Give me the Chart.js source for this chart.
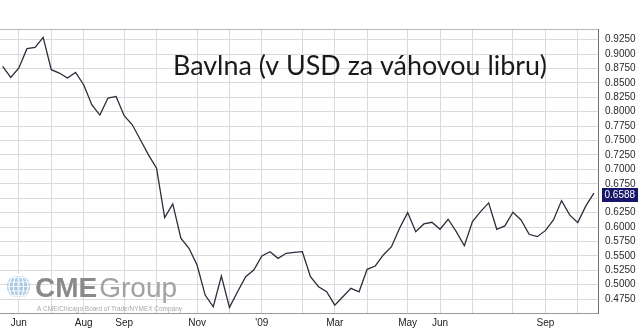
<!DOCTYPE html>
<html><head><meta charset="utf-8">
<script src="https://cdn.jsdelivr.net/npm/chart.js@4"></script>
<style>html,body{margin:0;padding:0;background:#fff}canvas{display:block}</style>
</head><body>
<div style="width:640px;height:331px"><canvas id="c" width="640" height="331"></canvas></div>
<script>
// weekly index (0 = first week of June 2008)
const weeks = [-2,-1,0,1,2,3,4,5,6,7,8,9,10,11,12,13,14,15,16,17,18,19,20,21,22,23,24,25,26,27,28,29,30,31,32,33,34,35,36,37,38,39,40,41,42,43,44,45,46,47,48,49,50,51,52,53,54,55,56,57,58,59,60,61,62,63,64,65,66,67,68,69,70,71];
const prices = [0.8786,0.8595,0.8758,0.9094,0.9116,0.9290,0.8729,0.8671,0.8585,0.8682,0.8468,0.8121,0.7942,0.8237,0.8265,0.7930,0.7773,0.7513,0.7252,0.7021,0.6163,0.6401,0.5805,0.5631,0.5341,0.4820,0.4617,0.5150,0.4606,0.4877,0.5138,0.5254,0.5497,0.5572,0.5457,0.5544,0.5562,0.5572,0.5138,0.4964,0.4877,0.4646,0.4790,0.4936,0.4877,0.5266,0.5324,0.5515,0.5659,0.5979,0.6250,0.5920,0.6053,0.6083,0.5961,0.6135,0.5920,0.5676,0.6093,0.6267,0.6418,0.5961,0.6019,0.6257,0.6123,0.5874,0.5833,0.5937,0.6123,0.6458,0.6210,0.6076,0.6366,0.6588];
const gridWeeks  = [0,4,8,13,17,22,26,30,35,39,43,48,52,56,61,65,69];
const gridLabels = ['Jun','','Aug','Sep','','Nov','',"'09",'','Mar','','May','Jun','','','Sep',''];
const yTicks = [0.925,0.9,0.875,0.85,0.825,0.8,0.775,0.75,0.725,0.7,0.675,0.65,0.625,0.6,0.575,0.55,0.525,0.5,0.475];
const lastValue = 0.6588;
const titleText = 'Bavlna (v USD za váhovou libru)';

const points = weeks.map((w,i)=>({x:w,y:prices[i]}));

const deco = {
  id:'deco',
  afterDraw(chart){
    const ctx = chart.ctx, a = chart.chartArea;
    ctx.save();
    // top border
    ctx.strokeStyle='#b8b8b8'; ctx.lineWidth=1;
    ctx.beginPath(); ctx.moveTo(0,Math.round(a.top)+0.5); ctx.lineTo(a.right,Math.round(a.top)+0.5); ctx.stroke();
    // title
    let fs = 25;
    ctx.font = fs+'px Lato';
    const w = ctx.measureText(titleText).width;
    fs = fs*374/w;
    ctx.font = fs.toFixed(2)+'px Lato';
    ctx.fillStyle='#1a1a1a'; ctx.textAlign='center'; ctx.textBaseline='alphabetic';
    ctx.fillText(titleText, 360, 75);
    // logo globe
    const gx=18.5, gy=286.5, r=11.5;
    ctx.fillStyle='#a9c9e2';
    ctx.beginPath(); ctx.arc(gx,gy,r,0,Math.PI*2); ctx.fill();
    ctx.strokeStyle='rgba(255,255,255,0.85)'; ctx.lineWidth=1;
    for(let k=-2;k<=2;k++){
      ctx.beginPath(); ctx.ellipse(gx,gy,Math.abs(k)*r/2.5+0.5,r,0,0,Math.PI*2); ctx.stroke();
    }
    for(let k=-2;k<=2;k++){
      const yy = gy + k*r/2.6, hw = Math.sqrt(Math.max(0,r*r-(k*r/2.6)**2));
      ctx.beginPath(); ctx.moveTo(gx-hw,yy); ctx.lineTo(gx+hw,yy); ctx.stroke();
    }
    ctx.textAlign='left';
    ctx.fillStyle='#8a8a8a'; ctx.font='bold 28px "Liberation Sans"';
    ctx.fillText('CME',35,297);
    const cw = ctx.measureText('CME').width;
    ctx.fillStyle='#a2a2a2'; ctx.font='28px "Liberation Sans"';
    ctx.fillText('Group',35+cw+2,297);
    ctx.fillStyle='#a8a8a8'; ctx.font='6.6px "Liberation Sans"';
    ctx.fillText('A CME/Chicago Board of Trade/NYMEX Company',37,311,145);
    // last value box
    const py = chart.scales.y.getPixelForValue(lastValue);
    ctx.fillStyle='#16166a';
    ctx.fillRect(602, Math.round(py)-5, 36, 14);
    ctx.fillStyle='#ffffff'; ctx.font='10px "Liberation Sans"'; ctx.textBaseline='middle';
    ctx.fillText(lastValue.toFixed(4), 604.5, Math.round(py)+2.5);
    ctx.restore();
  }
};

new Chart(document.getElementById('c'), {
  type:'line',
  data:{datasets:[{data:points, borderColor:'#2c2c3c', borderWidth:1.3, pointRadius:0, tension:0, fill:false}]},
  options:{
    responsive:false, animation:false, devicePixelRatio:1,
    layout:{padding:{top:29, left:0, right:0, bottom:0}},
    plugins:{legend:{display:false}, tooltip:{enabled:false}, title:{display:false}},
    scales:{
      x:{type:'linear', min:-2.33, max:71.5,
        afterBuildTicks(s){ s.ticks = gridWeeks.map(v=>({value:v})); },
        afterFit(s){ s.height = 17.5; },
        ticks:{autoSkip:false, maxRotation:0, padding:4, color:'#222', font:{family:'"Liberation Sans"', size:10},
          callback(v){ const i = gridWeeks.indexOf(v); return i>=0 ? gridLabels[i] : ''; }},
        grid:{color:'#dadada', drawTicks:false},
        border:{color:'#9a9a9a'}
      },
      y:{type:'linear', position:'right', min:0.45, max:0.9435,
        afterBuildTicks(s){ s.ticks = yTicks.map(v=>({value:v})); },
        afterFit(s){ s.width = 42; },
        ticks:{padding:7, color:'#2a2a2a', font:{family:'"Liberation Sans"', size:10},
          callback(v){ return Number(v).toFixed(4); }},
        grid:{color:'#dadada', drawTicks:false},
        border:{color:'#707070'}
      }
    }
  },
  plugins:[deco]
});
</script>
</body></html>
